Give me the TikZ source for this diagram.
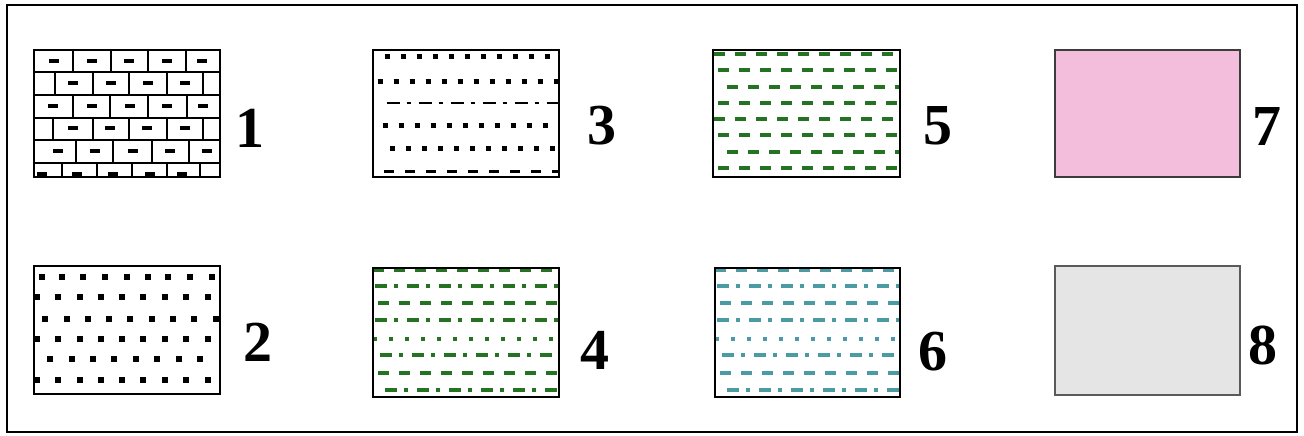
\documentclass[tikz,border=0pt]{standalone}
\usepackage{fontspec}
\setmainfont{Liberation Serif}
\definecolor{dgreen}{RGB}{35,115,35}
\definecolor{tealc}{RGB}{75,155,165}
\definecolor{pinkc}{RGB}{242,190,219}
\definecolor{greyc}{RGB}{229,229,229}
\begin{document}
\begin{tikzpicture}[x=1pt,y=-1pt,
  box/.style={draw=black, line width=1.8pt, inner sep=0pt, outer sep=0pt, anchor=north west, minimum width=186pt, minimum height=127pt},
  lbl/.style={font=\fontsize{58}{58}\selectfont\bfseries, inner sep=0pt},
  brickline/.style={line width=1.8pt},
  brickdash/.style={line width=3.5pt},
  dotrow/.style={line width=5pt, dash pattern=on 5pt off 11pt},
  dashrowk/.style={line width=3pt, dash pattern=on 10pt off 11pt},
  dashdotk/.style={line width=2.5pt, dash pattern=on 13pt off 7pt on 3.5pt off 8.5pt},
  gdash/.style={line width=3.8pt, dash pattern=on 11pt off 10pt},
  gdashdot/.style={line width=3.5pt, dash pattern=on 12pt off 7pt on 3.5pt off 9.5pt},
  gdot/.style={line width=4pt, dash pattern=on 4pt off 12pt}]
\useasboundingbox (0,0) rectangle (1304,436);
\fill[white] (0,0) rectangle (1304,436);
\draw[line width=1.5pt] (7,5) rectangle (1297,432);

% ---- box 1: brick pattern
\begin{scope}
\clip (34,50) rectangle (220,177);
\foreach \y in {72,95,118,140,163} \draw[brickline] (34,\y) -- (220,\y);
\foreach \ya/\yb/\xs in {50/72/{73,111,148,186}, 72/95/{55,93,129,167,203}, 95/118/{73,110,148,187}, 118/140/{53,93,129,167,203}, 140/163/{76,113,152,189}, 163/177/{62,97,132,167,200}}
  {\foreach \x in \xs {\draw[brickline] (\x,\ya) -- (\x,\yb);}}
\foreach \y/\xs in {61/{54,92,129,167,202}, 83/{73,111,148,185}, 106/{53,92,130,167,203}, 128/{73,110,147,185}, 151/{58,95,133,170,207}, 174/{42,77,113,150,182}}
  {\foreach \x in \xs {\draw[brickdash] (\x-5,\y) -- (\x+5,\y);}}
\end{scope}
\node[box] (b1) at (34,50) {};

% ---- box 2: dots
\begin{scope}
\clip (34,266) rectangle (220,394);
\foreach \y/\xs in {277/{42,62,83,105,127,148,168,190,212}, 297/{37,58,80,101,122,143,165,186,208}, 319/{45,67,88,109,130,152,173,194,216}, 339/{37,58,80,101,122,143,165,186,208}, 359/{50,72,93,114,136,157,179,200}, 380/{37,58,80,101,122,143,165,186,208}}
  {\foreach \x in \xs {\fill (\x-3,\y-3) rectangle (\x+3,\y+3);}}
\end{scope}
\node[box, minimum height=128pt] (b2) at (34,266) {};

% ---- box 3
\begin{scope}
\clip (373,50) rectangle (559,177);
\draw[dotrow] (384.5,57) -- (559,57);
\draw[dotrow] (377.5,82) -- (559,82);
\draw[dashdotk] (387,103) -- (559,103);
\draw[dotrow] (382.5,125) -- (559,125);
\draw[dotrow] (389.5,148) -- (559,148);
\draw[dashrowk] (384,171) -- (559,171);
\end{scope}
\node[box] (b3) at (373,50) {};

% ---- box 5
\begin{scope}
\clip (713,50) rectangle (900,177);
\foreach \y/\xs in {54/714,70/718,87/727,103/718,119/714,135/718,152/727,168/718}
  {\draw[gdash, dgreen] (\xs,\y) -- (900,\y);}
\end{scope}
\node[box, minimum width=187pt] (b5) at (713,50) {};

% ---- boxes 4 and 6
\foreach \ox/\col in {0/dgreen, 342/tealc} {
\begin{scope}[xshift=\ox pt]
\clip (373,268) rectangle (559,397);
\draw[gdash, \col] (373,270) -- (559,270);
\draw[gdashdot, \col] (375,286) -- (559,286);
\draw[gdash, \col] (378,303) -- (559,303);
\draw[gdashdot, \col] (375,320) -- (559,320);
\draw[gdot, \col] (373,339) -- (559,339);
\draw[gdashdot, \col] (380,355) -- (559,355);
\draw[gdash, \col] (378,373) -- (559,373);
\draw[gdashdot, \col] (385,390) -- (559,390);
\end{scope}
}
\node[box, minimum height=129pt] (b4) at (373,268) {};
\node[box, minimum width=185pt, minimum height=129pt] (b6) at (715,268) {};

% ---- boxes 7 and 8
\node[box, fill=pinkc, draw={rgb,255:red,60;green,60;blue,60}, minimum width=185pt] (b7) at (1055,50) {};
\node[box, fill=greyc, draw={rgb,255:red,90;green,90;blue,90}, minimum width=185pt, minimum height=129pt] (b8) at (1055,266) {};

% ---- labels
\node[lbl] (l1) at (250,128) {1};
\node[lbl] (l3) at (602,126) {3};
\node[lbl] (l5) at (938,126) {5};
\node[lbl] (l7) at (1267,127) {7};
\node[lbl] (l2) at (258,342) {2};
\node[lbl] (l4) at (595,350) {4};
\node[lbl] (l6) at (933,352) {6};
\node[lbl] (l8) at (1263,345) {8};
\end{tikzpicture}
\end{document}
